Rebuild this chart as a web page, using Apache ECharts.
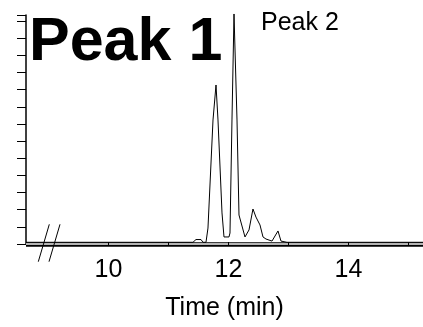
<!DOCTYPE html>
<html>
<head>
<meta charset="utf-8">
<script src="https://cdn.jsdelivr.net/npm/echarts@6/dist/echarts.min.js"></script>
<style>
  html, body { margin: 0; padding: 0; background: #fff; }
  #chart { width: 423px; height: 327px; }
</style>
</head>
<body>
<div id="chart"></div>
<script>
// Chromatogram trace: retention time (min) and detector response (arbitrary units)
const timeMin = [
  8.625, 11.408, 11.458, 11.542, 11.575, 11.625, 11.658, 11.742, 11.792, 11.825,
  11.892, 11.925, 12.008, 12.025, 12.058, 12.092, 12.142, 12.175, 12.275, 12.308,
  12.342, 12.408, 12.458, 12.525, 12.575, 12.625, 12.725, 12.758, 12.825, 12.875,
  12.975, 15.242
];
const response = [
  10, 10, 26, 26, 10, 10, 93, 723, 927, 723,
  181, 41, 41, 64, 723, 1341, 723, 169, 41, 41,
  82, 204, 157, 111, 41, 29, 17, 10, 76, 17,
  10, 10
];
const xTickValues = [10, 11, 12, 13, 14, 15];
const xLabelValues = [10, 12, 14];
const peakLabels = ['Peak 1', 'Peak 2'];
const axisTitle = 'Time (min)';

const FONT = '"Liberation Sans", Arial, Helvetica, sans-serif';
const X_MIN = 8.625, X_MAX = 15.242;

const chart = echarts.init(document.getElementById('chart'), null, { renderer: 'canvas' });

const trace = timeMin.map((t, i) => [t, response[i]]);

const baseX = {
  type: 'value',
  min: X_MIN,
  max: X_MAX,
  position: 'bottom',
  splitLine: { show: false },
  axisLabel: { show: false },
  axisTick: { show: false },
  axisLine: { onZero: false }
};

chart.setOption({
  animation: false,
  backgroundColor: '#fff',
  grid: { left: 26, right: 0, top: 15, bottom: 83, containLabel: false },
  xAxis: [
    // outer dark edge of the time axis band
    Object.assign({}, baseX, {
      axisLine: { onZero: false, lineStyle: { color: '#000', width: 4.6, cap: 'butt' } }
    }),
    // grey fill of the band, with the upper half of each tick
    Object.assign({}, baseX, {
      axisLine: { onZero: false, lineStyle: { color: '#b4b4b4', width: 2, cap: 'butt' } },
      axisTick: { show: true, inside: true, length: 2, customValues: xTickValues,
                  lineStyle: { color: '#000', width: 1 } }
    }),
    // lower half of each tick, labels and axis title
    Object.assign({}, baseX, {
      axisLine: { show: false, onZero: false },
      axisTick: { show: true, inside: false, length: 2, customValues: xTickValues,
                  lineStyle: { color: '#000', width: 1 } },
      axisLabel: { show: true, customValues: xLabelValues, margin: 14,
                   color: '#000', fontFamily: FONT, fontSize: 25 },
      name: axisTitle,
      nameLocation: 'middle',
      nameGap: 52,
      nameTextStyle: { color: '#000', fontFamily: FONT, fontSize: 25 }
    })
  ],
  yAxis: {
    type: 'value',
    min: 0,
    max: 1335,
    interval: 100,
    splitLine: { show: false },
    axisLabel: { show: false },
    axisLine: { show: true, lineStyle: { color: '#000', width: 1.5 } },
    axisTick: { show: true, inside: false, length: 9, lineStyle: { color: '#000', width: 1 } }
  },
  series: [{
    type: 'line',
    xAxisIndex: 0,
    data: trace,
    showSymbol: false,
    clip: false,
    z: 5,
    lineStyle: { color: '#000', width: 1 }
  }],
  graphic: [
    {
      type: 'text', left: 29, top: 13, z: 10,
      style: { text: peakLabels[0], fill: '#000', font: 'bold 61px ' + FONT }
    },
    {
      type: 'text', left: 261, top: 11, z: 10,
      style: { text: peakLabels[1], fill: '#000', font: '25px ' + FONT }
    },
    // axis break marks
    { type: 'line', z: 10, shape: { x1: 49.3, y1: 224.3, x2: 38.3, y2: 261.7 },
      style: { stroke: '#000', lineWidth: 1 } },
    { type: 'line', z: 10, shape: { x1: 60, y1: 224.3, x2: 49, y2: 261.7 },
      style: { stroke: '#000', lineWidth: 1 } }
  ]
});
</script>
</body>
</html>
